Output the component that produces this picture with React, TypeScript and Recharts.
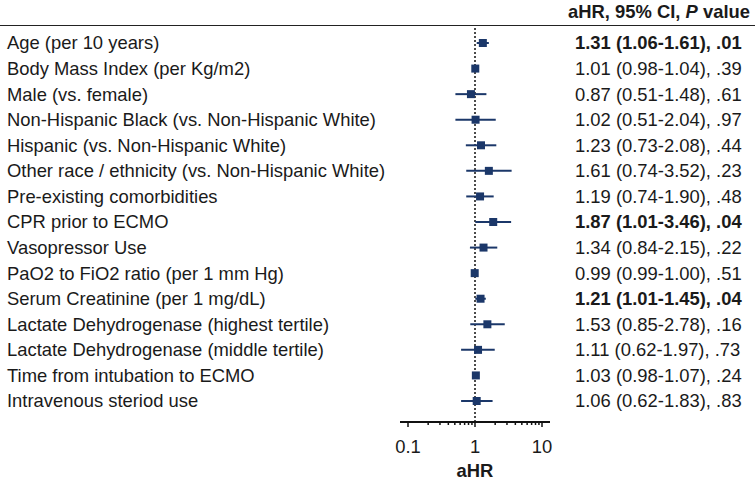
import { ScatterChart, Scatter, XAxis, YAxis, ZAxis, ErrorBar, ReferenceLine } from 'recharts';

const labels = [
  'Age (per 10 years)',
  'Body Mass Index (per Kg/m2)',
  'Male (vs. female)',
  'Non-Hispanic Black (vs. Non-Hispanic White)',
  'Hispanic (vs. Non-Hispanic White)',
  'Other race / ethnicity (vs. Non-Hispanic White)',
  'Pre-existing comorbidities',
  'CPR prior to ECMO',
  'Vasopressor Use',
  'PaO2 to FiO2 ratio (per 1 mm Hg)',
  'Serum Creatinine (per 1 mg/dL)',
  'Lactate Dehydrogenase (highest tertile)',
  'Lactate Dehydrogenase (middle tertile)',
  'Time from intubation to ECMO',
  'Intravenous steriod use',
];
const hr = [1.31, 1.01, 0.87, 1.02, 1.23, 1.61, 1.19, 1.87, 1.34, 0.99, 1.21, 1.53, 1.11, 1.03, 1.06];
const ciLow = [1.06, 0.98, 0.51, 0.51, 0.73, 0.74, 0.74, 1.01, 0.84, 0.99, 1.01, 0.85, 0.62, 0.98, 0.62];
const ciHigh = [1.61, 1.04, 1.48, 2.04, 2.08, 3.52, 1.9, 3.46, 2.15, 1.0, 1.45, 2.78, 1.97, 1.07, 1.83];
const pValues = ['.01', '.39', '.61', '.97', '.44', '.23', '.48', '.04', '.22', '.51', '.04', '.16', '.73', '.24', '.83'];

const majorTicks = [0.1, 1, 10];
const minorTicks = [0.2, 0.3, 0.4, 0.5, 0.6, 0.7, 0.8, 0.9, 2, 3, 4, 5, 6, 7, 8, 9];

const NAVY = '#1b3769';
const INK = '#1a1a1a';
const FONT = '"Liberation Sans", Arial, Helvetica, sans-serif';
const FS = 18.4;

const rows = labels.map((_, i) => ({
  row: i,
  hr: hr[i],
  err: [hr[i] - ciLow[i], ciHigh[i] - hr[i]],
}));
const rowTicks = labels.map((_, i) => i);
const xTicks = [...majorTicks, ...minorTicks].sort((a, b) => a - b);
const rowDomain = [-0.665, 14.821];

const isSig = (i: number) => ciLow[i] > 1 || ciHigh[i] < 1;
const ciText = (i: number) =>
  `${hr[i].toFixed(2)} (${ciLow[i].toFixed(2)}-${ciHigh[i].toFixed(2)}), ${pValues[i]}`;

function LabelTick({ y, payload }: any) {
  return (
    <text x={7} y={y} dy={6.4} fontSize={FS} fill={INK} fontFamily={FONT}>
      {labels[payload.value]}
    </text>
  );
}

function ValueTick({ y, payload }: any) {
  const i = payload.value;
  return (
    <text x={575} y={y} dy={6.4} fontSize={FS} fill={INK} fontFamily={FONT} fontWeight={isSig(i) ? 'bold' : 'normal'}>
      {ciText(i)}
    </text>
  );
}

function LogTick({ x, y, payload }: any) {
  const major = majorTicks.includes(payload.value);
  return (
    <g>
      <line x1={x} x2={x} y1={y} y2={y + (major ? 5 : 3)} stroke="#111" strokeWidth={1.5} />
      {major && (
        <text x={x} y={y + 31} textAnchor="middle" fontSize={FS} fill={INK} fontFamily={FONT}>
          {payload.value}
        </text>
      )}
    </g>
  );
}

export default function App() {
  return (
    <div style={{ position: 'absolute', left: 0, top: 0, width: 755, height: 482, background: '#fff', fontFamily: FONT }}>
      <div
        style={{
          position: 'absolute',
          top: 0,
          right: 5,
          lineHeight: '24px',
          fontSize: FS,
          fontWeight: 'bold',
          color: INK,
          whiteSpace: 'nowrap',
        }}
      >
        aHR, 95% CI, <i>P</i> value
      </div>
      <div style={{ position: 'absolute', top: 25, left: 0, width: 755, borderTop: '1.5px solid #222' }} />
      <ScatterChart width={755} height={482} margin={{ top: 26, right: 0, bottom: 0, left: 0 }}>
        <XAxis
          type="number"
          dataKey="hr"
          scale="log"
          domain={[0.1, 10]}
          allowDataOverflow
          ticks={xTicks}
          interval={0}
          padding={{ left: 8, right: 8 }}
          height={60}
          tickSize={0}
          tickMargin={0}
          tickLine={false}
          axisLine={{ stroke: '#111', strokeWidth: 2 }}
          tick={<LogTick />}
          label={{ value: 'aHR', position: 'insideBottom', offset: 5, fontSize: FS, fontWeight: 'bold', fill: INK, fontFamily: FONT }}
        />
        <YAxis
          yAxisId="left"
          type="number"
          dataKey="row"
          domain={rowDomain}
          allowDataOverflow
          reversed
          ticks={rowTicks}
          interval={0}
          width={400}
          axisLine={false}
          tickLine={false}
          tick={<LabelTick />}
        />
        <YAxis
          yAxisId="right"
          orientation="right"
          type="number"
          dataKey="row"
          domain={rowDomain}
          allowDataOverflow
          reversed
          ticks={rowTicks}
          interval={0}
          width={205}
          axisLine={false}
          tickLine={false}
          tick={<ValueTick />}
        />
        <ZAxis range={[70, 70]} />
        <ReferenceLine yAxisId="left" x={1} stroke="#111" strokeWidth={1.5} strokeDasharray="2 2" />
        <Scatter yAxisId="left" data={rows} fill={NAVY} shape="square" isAnimationActive={false}>
          <ErrorBar dataKey="err" direction="x" width={0} stroke={NAVY} strokeWidth={2} />
        </Scatter>
        <Scatter yAxisId="right" data={rows} fill="none" shape={() => <g />} isAnimationActive={false} />
      </ScatterChart>
    </div>
  );
}
